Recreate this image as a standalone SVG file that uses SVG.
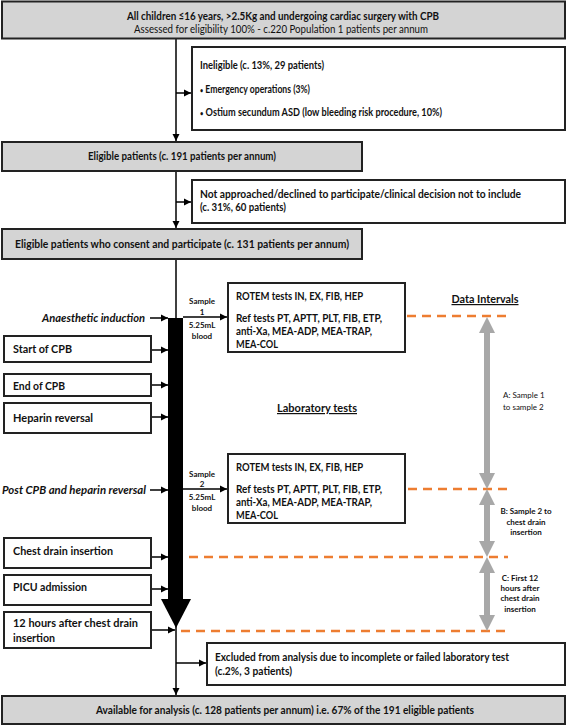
<svg xmlns="http://www.w3.org/2000/svg" width="567" height="726" viewBox="0 0 567 726">
<defs>
<marker id="ah" markerUnits="userSpaceOnUse" markerWidth="8" markerHeight="8" refX="7" refY="4" orient="auto">
<path d="M0,0.5 L7,4 L0,7.5 Z" fill="#000"/>
</marker>
<style>
.g{fill:#d4d4d4;stroke:#222;stroke-width:2}
.w{fill:#fff;stroke:#222;stroke-width:2}
.t{font-family:Lato,"Liberation Sans",sans-serif;font-weight:bold;font-size:11px;fill:#111}
.r{font-weight:normal}
.c{text-anchor:middle}
.e{text-anchor:end}
.big{font-size:12px}
.it{font-style:italic;font-size:12px}
.sm{font-size:8px}
.ln{stroke:#000;stroke-width:1.5;fill:none}
.arr{stroke:#000;stroke-width:1.5;fill:none;marker-end:url(#ah)}
.dash{stroke:#ed7d31;stroke-width:2.5;stroke-dasharray:9,6;fill:none}
.gr{fill:#a8a8a8}
</style>
</defs>

<g id="connectors">
<line class="arr" x1="176" y1="39" x2="176" y2="141"/>
<line class="arr" x1="176" y1="93" x2="191" y2="93"/>
<line class="arr" x1="176" y1="171" x2="176" y2="228"/>
<line class="arr" x1="176" y1="202" x2="191" y2="202"/>
<line class="ln" x1="176" y1="259" x2="176" y2="318"/>
<line class="arr" x1="176" y1="625" x2="176" y2="695"/>
<line class="arr" x1="176" y1="663" x2="206" y2="663"/>
<line class="arr" x1="150" y1="318" x2="168" y2="318"/>
<line class="arr" x1="151" y1="350" x2="168" y2="350"/>
<line class="arr" x1="151" y1="385" x2="168" y2="385"/>
<line class="arr" x1="151" y1="417" x2="168" y2="417"/>
<line class="arr" x1="150" y1="490" x2="168" y2="490"/>
<line class="arr" x1="151" y1="557" x2="168" y2="557"/>
<line class="arr" x1="151" y1="589" x2="168" y2="589"/>
<line class="arr" x1="151" y1="630" x2="175" y2="630"/>
<line class="arr" x1="183" y1="317" x2="227" y2="317"/>
<line class="arr" x1="183" y1="489" x2="227" y2="489"/>
</g>

<g id="timeline-bar">
<rect x="168" y="318" width="15" height="282" fill="#000"/>
<polygon points="161,599 191,599 176,628" fill="#000"/>
</g>

<g id="top">
<rect class="g" x="2" y="1.5" width="563" height="37"/>
<text class="t c" x="283" y="20" textLength="312" lengthAdjust="spacingAndGlyphs">All children ≤16 years, &gt;2.5Kg and undergoing cardiac surgery with CPB</text>
<text class="t r c" x="281" y="33" textLength="294" lengthAdjust="spacingAndGlyphs">Assessed for eligibility 100% -  c.220 Population 1 patients per annum</text>
</g>

<g id="ineligible">
<rect class="w" x="192" y="47" width="373" height="83"/>
<text class="t" x="200" y="69" textLength="124" lengthAdjust="spacingAndGlyphs">Ineligible (c. 13%, 29 patients)</text>
<text class="t" x="200" y="93" textLength="110" lengthAdjust="spacingAndGlyphs"><tspan font-size="7">•</tspan> Emergency operations (3%)</text>
<text class="t" x="200" y="116" textLength="242" lengthAdjust="spacingAndGlyphs"><tspan font-size="7">•</tspan> Ostium secundum ASD (low bleeding risk procedure, 10%)</text>
</g>

<g id="eligible">
<rect class="g" x="2" y="142" width="360" height="29"/>
<text class="t c" x="182" y="160" textLength="188" lengthAdjust="spacingAndGlyphs">Eligible patients (c. 191 patients per annum)</text>
</g>

<g id="not-approached">
<rect class="w" x="192" y="180" width="373" height="43"/>
<text class="t" x="200" y="198" textLength="321" lengthAdjust="spacingAndGlyphs">Not approached/declined to participate/clinical decision not  to include</text>
<text class="t" x="200" y="211" textLength="86" lengthAdjust="spacingAndGlyphs">(c. 31%, 60 patients)</text>
</g>

<g id="consent">
<rect class="g" x="2" y="229" width="360" height="30"/>
<text class="t c" x="182" y="248" textLength="334" lengthAdjust="spacingAndGlyphs">Eligible patients who consent and participate (c. 131 patients per annum)</text>
</g>

<g id="anaesthetic">
<text class="t it" x="42" y="322" textLength="103" lengthAdjust="spacingAndGlyphs">Anaesthetic induction</text>
</g>

<g id="sample1">
<text class="t sm c" x="202" y="304">Sample</text>
<text class="t sm c" x="202" y="315">1</text>
<text class="t sm c" x="202" y="328">5.25mL</text>
<text class="t sm c" x="202" y="339">blood</text>
</g>

<g id="rotem1">
<rect class="w" x="228" y="283" width="177" height="69"/>
<text class="t" x="236" y="300" textLength="127" lengthAdjust="spacingAndGlyphs">ROTEM tests IN, EX, FIB, HEP</text>
<text class="t" x="236" y="322" textLength="146" lengthAdjust="spacingAndGlyphs">Ref tests PT, APTT, PLT, FIB, ETP,</text>
<text class="t" x="236" y="335" textLength="136" lengthAdjust="spacingAndGlyphs">anti-Xa, MEA-ADP, MEA-TRAP,</text>
<text class="t" x="236" y="348" textLength="42" lengthAdjust="spacingAndGlyphs">MEA-COL</text>
</g>

<g id="start-cpb">
<rect class="w" x="4" y="336" width="147" height="26"/>
<text class="t big" x="13" y="353" textLength="59" lengthAdjust="spacingAndGlyphs">Start of CPB</text>
</g>
<g id="end-cpb">
<rect class="w" x="4" y="374" width="147" height="22"/>
<text class="t big" x="13" y="390" textLength="52" lengthAdjust="spacingAndGlyphs">End of CPB</text>
</g>
<g id="heparin">
<rect class="w" x="4" y="403" width="147" height="30"/>
<text class="t big" x="13" y="422" textLength="80" lengthAdjust="spacingAndGlyphs">Heparin reversal</text>
</g>

<g id="lab-tests">
<text class="t big c" x="317" y="412" textLength="80" lengthAdjust="spacingAndGlyphs" text-decoration="underline">Laboratory tests</text>
</g>
<g id="data-intervals">
<text class="t big c" x="485" y="303" textLength="67" lengthAdjust="spacingAndGlyphs" text-decoration="underline">Data Intervals</text>
</g>

<g id="post-cpb">
<text class="t it" x="2" y="494" textLength="144" lengthAdjust="spacingAndGlyphs">Post CPB and heparin reversal</text>
</g>

<g id="sample2">
<text class="t sm c" x="202" y="477">Sample</text>
<text class="t sm c" x="202" y="487">2</text>
<text class="t sm c" x="202" y="500">5.25mL</text>
<text class="t sm c" x="202" y="511">blood</text>
</g>

<g id="rotem2">
<rect class="w" x="228" y="454" width="177" height="69"/>
<text class="t" x="236" y="471" textLength="127" lengthAdjust="spacingAndGlyphs">ROTEM tests IN, EX, FIB, HEP</text>
<text class="t" x="236" y="493" textLength="146" lengthAdjust="spacingAndGlyphs">Ref tests PT, APTT, PLT, FIB, ETP,</text>
<text class="t" x="236" y="506" textLength="136" lengthAdjust="spacingAndGlyphs">anti-Xa, MEA-ADP, MEA-TRAP,</text>
<text class="t" x="236" y="519" textLength="42" lengthAdjust="spacingAndGlyphs">MEA-COL</text>
</g>

<g id="chest-drain">
<rect class="w" x="4" y="538" width="147" height="30"/>
<text class="t big" x="13" y="555" textLength="100" lengthAdjust="spacingAndGlyphs">Chest drain insertion</text>
</g>
<g id="picu">
<rect class="w" x="4" y="575" width="147" height="30"/>
<text class="t big" x="13" y="591" textLength="74" lengthAdjust="spacingAndGlyphs">PICU admission</text>
</g>
<g id="twelve-hours">
<rect class="w" x="4" y="612" width="147" height="36"/>
<text class="t big" x="13" y="627" textLength="125" lengthAdjust="spacingAndGlyphs">12 hours after chest drain</text>
<text class="t big" x="13" y="642" textLength="42" lengthAdjust="spacingAndGlyphs">insertion</text>
</g>

<g id="intervals">
<line class="dash" x1="407" y1="316" x2="508" y2="316"/>
<line class="dash" x1="408" y1="489" x2="508" y2="489"/>
<line class="dash" x1="189" y1="557" x2="508" y2="557"/>
<line class="dash" x1="181" y1="631" x2="510" y2="631"/>
<polygon class="gr" points="487,317 495,333 490,333 490,473 495,473 487,489 479,473 484,473 484,333 479,333"/>
<polygon class="gr" points="487,489 495,505 490,505 490,541 495,541 487,557 479,541 484,541 484,505 479,505"/>
<polygon class="gr" points="487,557 495,573 490,573 490,615 495,615 487,631 479,615 484,615 484,573 479,573"/>
<text class="t r sm" x="503" y="398">A: Sample 1</text>
<text class="t r sm" x="503" y="410">to sample 2</text>
<text class="t sm c" x="526" y="514">B: Sample 2 to</text>
<text class="t sm c" x="526" y="525">chest drain</text>
<text class="t sm c" x="526" y="535">insertion</text>
<text class="t sm c" x="520" y="581">C: First 12</text>
<text class="t sm c" x="520" y="591">hours after</text>
<text class="t sm c" x="520" y="601">chest drain</text>
<text class="t sm c" x="520" y="612">insertion</text>
</g>

<g id="excluded">
<rect class="w" x="207" y="643" width="358" height="42"/>
<text class="t" x="215" y="661" textLength="294" lengthAdjust="spacingAndGlyphs">Excluded from analysis due to incomplete or failed laboratory test</text>
<text class="t" x="215" y="675" textLength="77" lengthAdjust="spacingAndGlyphs">(c.2%, 3 patients)</text>
</g>

<g id="available">
<rect class="g" x="2" y="696" width="563" height="28"/>
<text class="t c" x="285" y="714" textLength="378" lengthAdjust="spacingAndGlyphs">Available for analysis (c. 128 patients per annum) i.e. 67% of the 191 eligible patients</text>
</g>
</svg>
